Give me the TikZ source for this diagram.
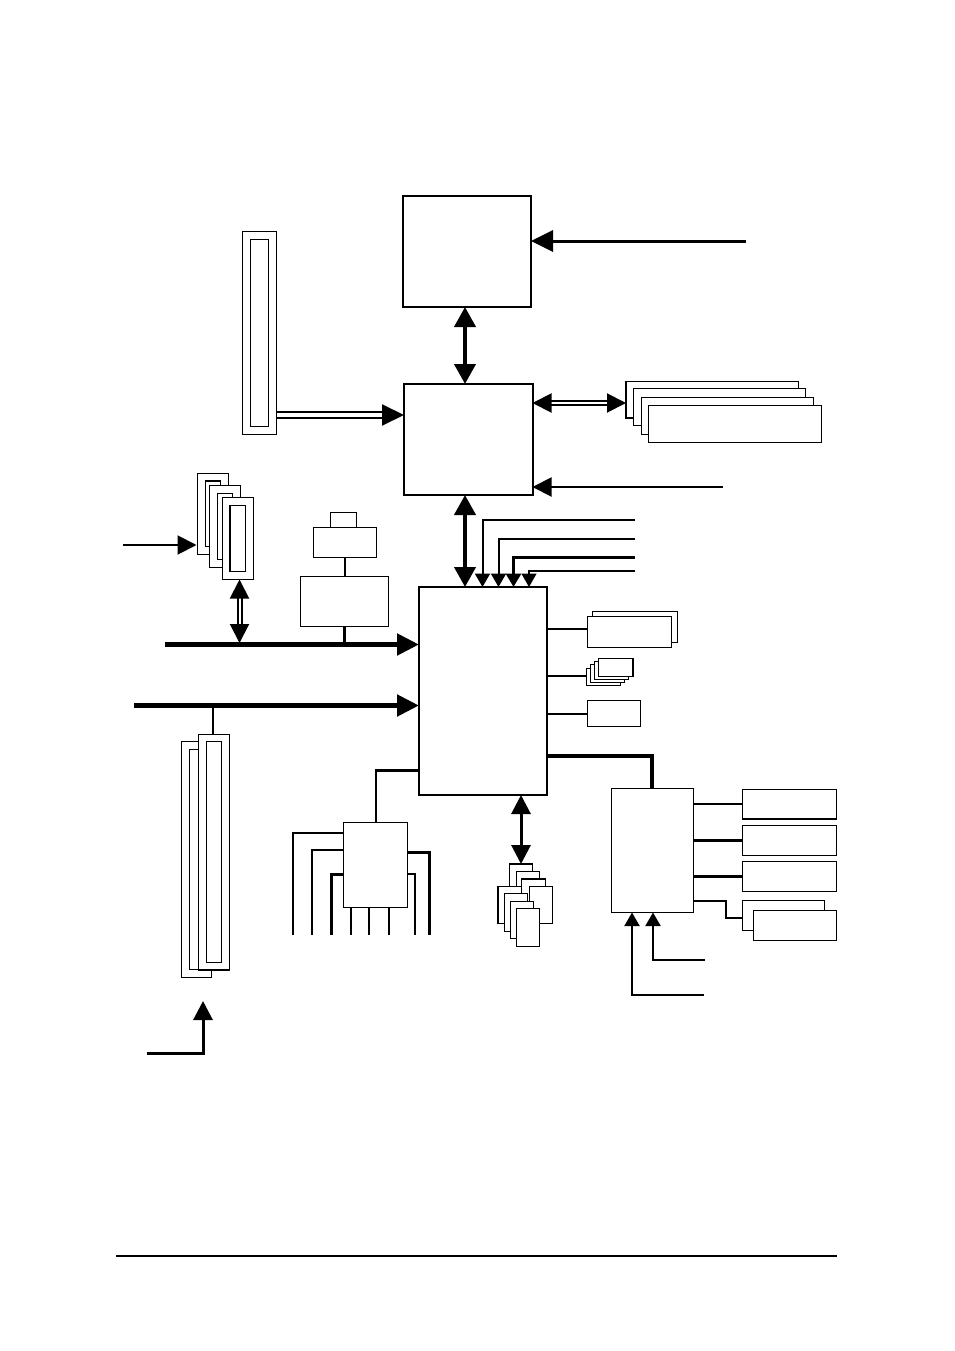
\documentclass[tikz,border=0pt]{standalone}
\usetikzlibrary{arrows.meta}
\tikzset{
  bx/.style={draw=black,fill=white,inner sep=0pt,outer sep=0pt,line width=1pt},
  wire/.style={draw=black,line width=2pt},
  mid/.style={draw=black,line width=3pt},
  fat/.style={draw=black,line width=4pt},
  bus/.style={draw=black,line width=5pt},
  twinw/.style={draw=black,double=white,line width=2pt,double distance=4pt},
  twinn/.style={draw=black,double=white,line width=2pt,double distance=2pt},
  big/.style={-{Triangle[length=22pt,width=21pt]}},
  bigboth/.style={{Triangle[length=20pt,width=21pt]}-{Triangle[length=20pt,width=21pt]}},
  med/.style={-{Triangle[length=19pt,width=19pt]}},
  medboth/.style={{Triangle[length=19pt,width=19pt]}-{Triangle[length=19pt,width=19pt]}},
  small/.style={-{Triangle[length=13.5pt,width=15pt]}}
}
% \rb[extra]{name}{x1}{y1}{x2}{y2}
\newcommand{\rb}[6][]{\node[bx,#1,minimum width={(#5-#3)*1pt},minimum height={(#6-#4)*1pt}] (#2) at ({(#3+#5)/2},{(#4+#6)/2}) {};}
\begin{document}
\begin{tikzpicture}[x=1pt,y=-1pt]
\fill[white] (0,0) rectangle (954,1351);
\useasboundingbox (0,0) rectangle (954,1351);

% main chips
\rb[line width=2pt]{cpu}{403}{196.5}{531}{307}
\rb[line width=2pt]{nb}{404}{384}{532.5}{495}
\rb[line width=2pt]{sb}{419}{587}{547}{795}

% AGP slot
\rb{agpo}{242.5}{231.5}{276.5}{434}
\rb{agpi}{250.5}{239.5}{268.5}{426.5}

% memory
\rb[line width=1.4pt]{ma}{626}{381.5}{798.5}{418}
\rb{mb}{633.5}{388.5}{805.5}{425.5}
\rb{mc}{641.5}{397.5}{813.5}{434.5}
\rb{md}{648.5}{405.5}{821.5}{442.5}

% PCI slots
\rb{pao}{197.5}{473.5}{228.5}{554.5}
\rb[line width=1.3pt]{pai}{205.5}{481}{220.5}{546.5}
\rb{pbo}{209.5}{485.5}{240.5}{567.5}
\rb{pbi}{217.5}{493.5}{232.5}{559.5}
\rb{pco}{222.5}{497.5}{253.5}{579.5}
\rb[line width=1.3pt]{pci}{230}{505.5}{245.5}{571.5}

% LAN stack
\rb[line width=1.2pt]{la}{330.5}{512.5}{356.5}{527.5}
\rb{lb}{313.5}{527.5}{376.5}{557.5}
\rb{lc}{300.5}{576.5}{388.5}{626.5}

% PCI-E slots
\rb{xao}{181.5}{741.5}{211.5}{977.5}
\rb{xai}{189.5}{749.5}{205}{969.5}
\rb[line width=1.3pt]{xbo}{198.5}{734.5}{229.5}{970}
\rb[line width=1.2pt]{xbi}{206.5}{741.5}{221.5}{962.5}

% super I/O
\rb{sio}{343.5}{822.5}{407.5}{907.5}

% BIOS / stack below south bridge
\rb[line width=1.2pt]{sa}{509.5}{864}{532.5}{900}
\rb{sb2}{516.5}{871.5}{539.5}{905}
\rb[line width=1.4pt]{sc}{521.5}{879}{545.5}{915}
\rb[line width=1.4pt]{sd}{529.5}{886.5}{552.5}{923.5}
\rb[line width=1.3pt]{se}{498}{886.5}{521.5}{923.5}
\rb{sf}{504.5}{893.5}{527.5}{931.5}
\rb{sg}{510.5}{901.5}{533.5}{938.5}
\rb{sh}{516.5}{908.5}{539.5}{946.5}

% right of south bridge
\rb{ra}{592.5}{611.5}{677.5}{642.5}
\rb{rb}{587.5}{616.5}{671.5}{647.5}
\rb{qa}{586.5}{668.5}{620.5}{685.5}
\rb{qb}{590.5}{664.5}{624.5}{682.5}
\rb{qc}{594.5}{661.5}{628.5}{679.5}
\rb[line width=1.3pt]{qd}{598.5}{658.5}{633}{676.5}
\rb{rc}{587.5}{700.5}{640.5}{726.5}

% audio codec group
\rb{ich}{611.5}{788.5}{693.5}{912.5}
\rb[line width=1.2pt]{ua}{742.5}{789.5}{836.5}{819}
\rb{ub}{742.5}{825.5}{836.5}{855.5}
\rb{uc}{742.5}{861.5}{836.5}{891.5}
\rb{ud}{742.5}{900.5}{824.5}{930.5}
\rb{ue}{753.5}{910.5}{836.5}{940.5}

% free ends
\coordinate (fCpu) at (746,241);
\coordinate (fNb) at (723,487);
\coordinate (fPci) at (123,545);
\coordinate (fBusA) at (165,644.5);
\coordinate (fBusB) at (134,705.5);
\coordinate (fX) at (147,1053.5);
\coordinate (fS1) at (635,520);
\coordinate (fS2) at (635,539);
\coordinate (fS3) at (635,557);
\coordinate (fS4) at (635,571);
\coordinate (fU1) at (705,960);
\coordinate (fU2) at (704,995);
\coordinate (ruleL) at (116,1256);
\coordinate (ruleR) at (837,1256);

% connectors: north part
\draw[mid,big] (fCpu) -- (cpu.east |- fCpu);
\draw[fat,bigboth] (465,0 |- cpu.south) -- (465,0 |- nb.north);
\draw[fat,bigboth] (465,0 |- nb.south) -- (465,0 |- sb.north);
\draw[twinw,big] (agpo.east |- 0,415) -- (nb.west |- 0,415);
\draw[twinn,medboth] (nb.east |- 0,403) -- (ma.west |- 0,403);
\draw[wire,med] (fNb) -- (nb.east |- fNb);

% four inputs of south bridge
\draw[wire,small] (fS1) -| (482.5,0 |- sb.north);
\draw[wire,small] (fS2) -| (498.5,0 |- sb.north);
\draw[mid,small] (fS3) -| (513.5,0 |- sb.north);
\draw[draw=black,line width=1.5pt,small] (fS4) -| (529,0 |- sb.north);

% PCI and buses
\draw[wire,med,shorten >=1pt] (fPci) -- (pao.west |- fPci);
\draw[bus,big] (fBusA) -- (sb.west |- fBusA);
\draw[bus,big] (fBusB) -- (sb.west |- fBusB);
\coordinate (jPci) at (239.5,643);
\draw[twinn,medboth] (239.5,0 |- pco.south) -- (jPci);
\draw[wire] (344.5,0 |- lb.south) -- (344.5,0 |- lc.north);
\draw[mid] (344.5,0 |- lc.south) -- (344.5,0 |- fBusA);
\draw[wire] (213,0 |- fBusB) -- (213,0 |- xbo.north);
\draw[mid,med] (fX) -| (203,1001);

% south bridge down and left
\draw[mid] (sb.west |- 0,770.5) -- (374.5,770.5);
\draw[wire] (376,769) -- (376,0 |- sio.north);
\draw[mid,medboth] (521,0 |- sb.south) -- (521,0 |- sa.north);

% super I/O pins
\draw[wire] (sio.west |- 0,833) -| (293,934.5);
\draw[wire] (sio.west |- 0,850) -| (312,935);
\draw[mid] (sio.west |- 0,874) -| (331.5,935);
\draw[mid] (sio.east |- 0,852.5) -| (429,934.5);
\draw[wire] (sio.east |- 0,874) -| (415,934.5);
\draw[wire] (351,0 |- sio.south) -- (351,935);
\draw[wire] (369,0 |- sio.south) -- (369,935);
\draw[wire] (389,0 |- sio.south) -- (389,935);

% south bridge right
\draw[wire] (sb.east |- 0,629) -- (rb.west |- 0,629);
\draw[wire] (sb.east |- 0,676) -- (qa.west |- 0,676);
\draw[wire] (sb.east |- 0,714) -- (rc.west |- 0,714);
\draw[fat] (sb.east |- 0,755.5) -| (652,0 |- ich.north);

% codec
\draw[wire] (ich.east |- 0,804) -- (ua.west |- 0,804);
\draw[mid] (ich.east |- 0,840.5) -- (ub.west |- 0,840.5);
\draw[mid] (ich.east |- 0,876.5) -- (uc.west |- 0,876.5);
\draw[wire] (ich.east |- 0,901) -- (726,901) -- (726,917.5) -- (ud.west |- 0,917.5);
\draw[wire,small] (fU1) -| (653,0 |- ich.south);
\draw[wire,small] (fU2) -| (632,0 |- ich.south);

% page rule
\draw[wire] (ruleL) -- (ruleR);
\end{tikzpicture}
\end{document}
